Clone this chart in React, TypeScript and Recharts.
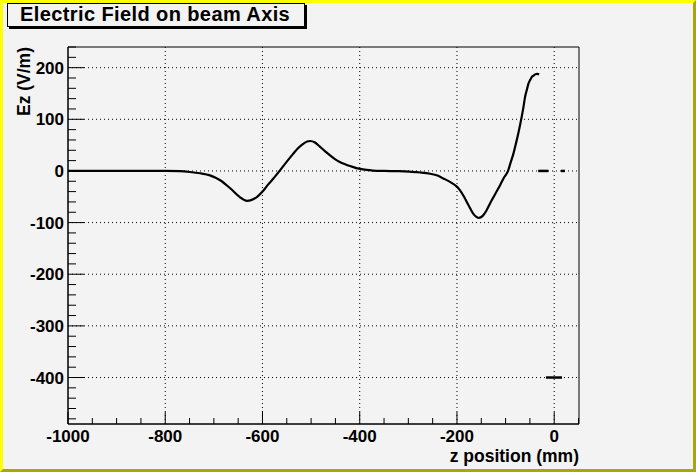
import { LineChart, Line, XAxis, YAxis, ReferenceLine, ReferenceArea } from 'recharts'

// field along the beam axis
const zPos = [
  -1000, -900, -800, -770, -749, -728, -708, -687, -667, -646, -638, -632, -622, -611, -598, -589,
  -576, -564, -550, -537, -527, -517, -508, -502, -492, -482, -471, -461, -451, -441, -430, -420,
  -410, -399, -386, -373, -350, -320, -297, -275, -255, -240, -229, -211, -202, -194, -186, -177,
  -167, -160, -155, -147, -139, -132, -125, -118, -111, -104, -95, -90, -84, -79, -74, -70, -67,
  -63, -60, -56, -53, -49, -46, -42, -39, -35, -31,
]
const ezVal = [
  0, 0, 0, -0.5, -2, -4.5, -8.5, -18, -33, -51, -56, -58, -56, -50, -38, -27,
  -13, 1, 18, 33, 44, 52, 57, 58, 55, 47, 38, 30, 23, 17.5, 13, 9.5,
  6.5, 4, 2, 0.8, 0, -0.5, -1.5, -3, -5.5, -9, -14, -23, -29, -37, -49, -65,
  -82, -89, -91, -87, -76, -63, -51, -39, -27, -14, 0, 15, 33, 52, 72, 90, 104,
  125, 143, 158, 169, 177, 182, 185, 187, 188, 187,
]

// stray short segments near z = 0
const strayA = { z: [-33, -12], ez: [0, 0] }
const strayB = { z: [14, 22], ez: [0, 0] }
const strayC = { z: [-17, 16], ez: [-400, -400] }

const xMajor = [-1000, -800, -600, -400, -200, 0]
const yMajor = [200, 100, 0, -100, -200, -300, -400]
const xGrid = [-800, -600, -400, -200, 0]

const X_MIN = -1000
const X_MAX = 51
const Y_MIN = -490
const Y_MAX = 240

const xTicks: number[] = []
for (let v = X_MIN; v <= 50; v += 50) xTicks.push(v)
const yTicks: number[] = []
for (let v = -480; v <= Y_MAX; v += 20) yTicks.push(v)

const toRows = (zs: number[], es: number[]) => zs.map((z, i) => ({ z, ez: es[i] }))
const curve = toRows(zPos, ezVal)

const FONT = '"Liberation Sans", Arial, Helvetica, sans-serif'

function XTick(props: any) {
  const { x, y, payload } = props
  const major = xMajor.includes(payload.value)
  return (
    <g>
      <line x1={x} x2={x} y1={y} y2={y - (major ? 12 : 6)} stroke="#000" />
      {major && (
        <text x={x} y={y + 18} textAnchor="middle" fontFamily={FONT} fontWeight="bold" fontSize={17} fill="#000">
          {payload.value}
        </text>
      )}
    </g>
  )
}

function YTick(props: any) {
  const { x, y, payload } = props
  const major = yMajor.includes(payload.value)
  return (
    <g>
      <line x1={x} x2={x + (major ? 16 : 8)} y1={y} y2={y} stroke="#000" />
      {major && (
        <text x={x - 4} y={y + 6} textAnchor="end" fontFamily={FONT} fontWeight="bold" fontSize={17} fill="#000">
          {payload.value}
        </text>
      )}
    </g>
  )
}

export default function App() {
  return (
    <div style={{ position: 'absolute', left: 0, top: 0, width: 696, height: 472, background: '#f3f3f3' }}>
      <LineChart width={696} height={472} margin={{ top: 47, right: 117, bottom: 0, left: 8 }}>
        <XAxis
          type="number"
          dataKey="z"
          domain={[X_MIN, X_MAX]}
          allowDataOverflow
          ticks={xTicks}
          interval={0}
          tickSize={0}
          tickMargin={0}
          tickLine={false}
          axisLine={{ stroke: '#000' }}
          tick={(p: any) => <XTick {...p} />}
          height={48}
          label={(p: any) => {
            const vb = p.viewBox
            return (
              <text x={vb.x + vb.width} y={462} textAnchor="end" fontFamily={FONT} fontWeight="bold" fontSize={17.5} fill="#000">
                z position (mm)
              </text>
            )
          }}
        />
        <YAxis
          type="number"
          dataKey="ez"
          domain={[Y_MIN, Y_MAX]}
          allowDataOverflow
          ticks={yTicks}
          interval={0}
          tickSize={0}
          tickMargin={0}
          tickLine={false}
          axisLine={{ stroke: '#000' }}
          tick={(p: any) => <YTick {...p} />}
          width={60}
          label={(p: any) => {
            const vb = p.viewBox
            return (
              <text
                x={30}
                y={vb.y}
                transform={`rotate(-90, 30, ${vb.y})`}
                textAnchor="end"
                fontFamily={FONT}
                fontWeight="bold"
                fontSize={17.5}
                fill="#000"
              >
                Ez (V/m)
              </text>
            )
          }}
        />
        {xGrid.map((v) => (
          <ReferenceLine key={'gx' + v} x={v} stroke="#000" strokeDasharray="1 3" />
        ))}
        {yMajor.map((v) => (
          <ReferenceLine key={'gy' + v} y={v} stroke="#000" strokeDasharray="1 3" />
        ))}
        <ReferenceArea x1={X_MIN} x2={X_MAX} y1={Y_MIN} y2={Y_MAX} fill="none" stroke="#000" fillOpacity={0} />
        <Line data={curve} type="monotone" dataKey="ez" stroke="#000" strokeWidth={2.2} dot={false} isAnimationActive={false} />
        <Line data={toRows(strayA.z, strayA.ez)} dataKey="ez" stroke="#000" strokeWidth={2.5} dot={false} isAnimationActive={false} />
        <Line data={toRows(strayB.z, strayB.ez)} dataKey="ez" stroke="#000" strokeWidth={2.5} dot={false} isAnimationActive={false} />
        <Line data={toRows(strayC.z, strayC.ez)} dataKey="ez" stroke="#000" strokeWidth={2.5} dot={false} isAnimationActive={false} />
      </LineChart>
      <div
        style={{
          position: 'absolute',
          left: 7,
          top: 3,
          width: 298,
          height: 24,
          boxSizing: 'border-box',
          border: '1px solid #000',
          boxShadow: '2px 2px 0 #000',
          background: '#f3f3f3',
          paddingLeft: 12,
          fontFamily: FONT,
          fontWeight: 'bold',
          fontSize: 20,
          letterSpacing: 0.4,
          lineHeight: '21px',
          color: '#000',
          whiteSpace: 'nowrap',
        }}
      >
        Electric Field on beam Axis
      </div>
      <div
        style={{
          position: 'absolute',
          left: 0,
          top: 0,
          width: 696,
          height: 472,
          boxSizing: 'border-box',
          borderLeft: '3px solid #ffff00',
          borderTop: '3px solid #ffff00',
          borderRight: '3px solid #a8a800',
          borderBottom: '3px solid #a8a800',
          pointerEvents: 'none',
        }}
      />
    </div>
  )
}
